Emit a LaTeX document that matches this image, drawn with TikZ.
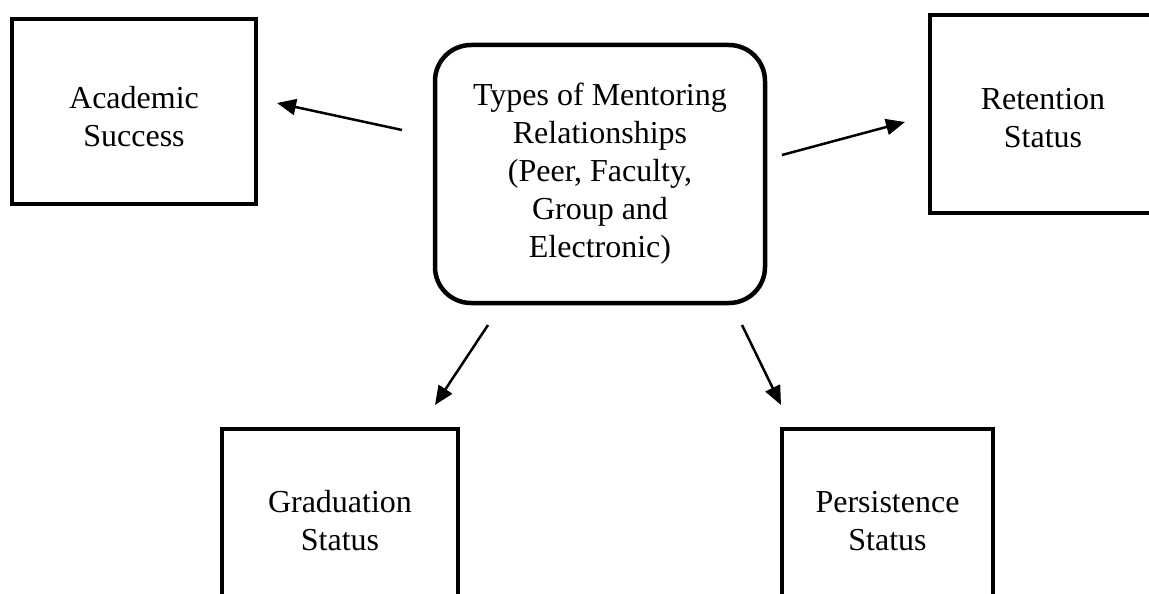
\documentclass[tikz,border=0pt]{standalone}
\usepackage{fontspec}
\setmainfont{Liberation Serif}
\usetikzlibrary{arrows.meta}
\begin{document}
\begin{tikzpicture}[x=1pt,y=1pt,
  box/.style={draw=black, line width=4.5pt, align=center, inner sep=0pt,
    font=\fontsize{32}{38}\selectfont},
  arr/.style={line width=2.5pt, -{Triangle[length=19pt,width=16pt]}}]
\useasboundingbox (0,0) rectangle (1149,-594);
\clip (0,0) rectangle (1149,-594);
\fill[white] (0,0) rectangle (1149,-594);
\node[box, minimum width=244pt, minimum height=185pt] (acad) at (134,-111.5) {\rule{0pt}{32pt}Academic\\Success};
\node[box, minimum width=226pt, minimum height=198pt] (ret) at (1043,-114) {\rule{0pt}{30pt}Retention\\Status};
\node[box, rounded corners=36pt, minimum width=330pt, minimum height=258pt] (ctr) at (600,-174) {Types of Mentoring\\Relationships\\(Peer, Faculty,\\Group and\\Electronic)};
\node[box, minimum width=236pt, minimum height=184pt] (grad) at (340,-521) {Graduation\\Status};
\node[box, minimum width=211pt, minimum height=184pt] (pers) at (887.5,-521) {Persistence\\Status};
\coordinate (a1) at (402,-130);
\coordinate (a2) at (277,-103);
\coordinate (r1) at (782,-155);
\coordinate (r2) at (905,-122);
\coordinate (g1) at (488,-325);
\coordinate (g2) at (435,-405);
\coordinate (p1) at (742,-325);
\coordinate (p2) at (781,-405);
\draw[arr] (a1) -- (a2);
\draw[arr] (r1) -- (r2);
\draw[arr] (g1) -- (g2);
\draw[arr] (p1) -- (p2);
\end{tikzpicture}
\end{document}
